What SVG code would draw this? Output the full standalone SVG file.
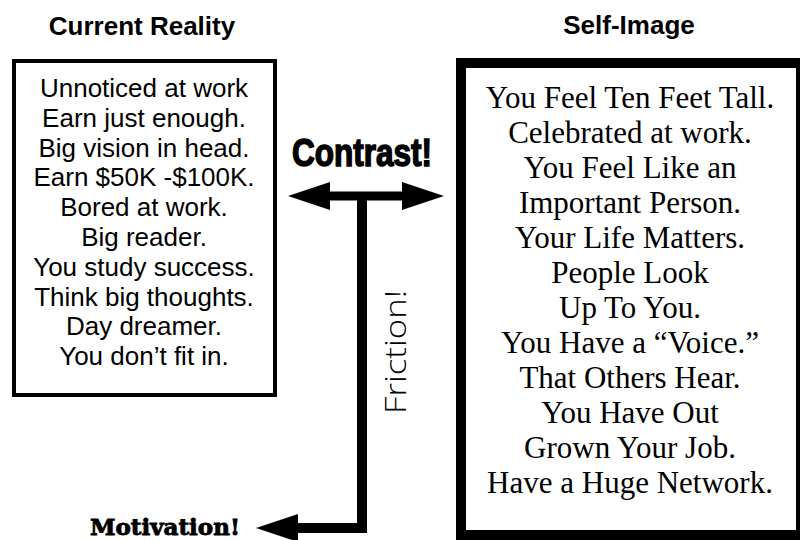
<svg xmlns="http://www.w3.org/2000/svg" width="800" height="540" viewBox="0 0 800 540">
<style>
.hdr{font-family:"Liberation Sans",Arial,sans-serif;font-weight:bold;font-size:26px;fill:#000;text-anchor:middle}
.lt{font-family:"Liberation Sans",Arial,sans-serif;font-size:26px;fill:#000;text-anchor:middle}
.rt{font-family:"Liberation Serif","Times New Roman",serif;font-size:31px;fill:#000;text-anchor:middle}
.box{fill:#fff;stroke:#000}
.con{fill:none;stroke:#000;stroke-linejoin:miter}
</style>
<defs>
<marker id="head" viewBox="0 0 42 28" markerWidth="42" markerHeight="28" markerUnits="userSpaceOnUse" refX="0" refY="14" orient="auto-start-reverse">
<path d="M0,0 L42,14 L0,28 z" fill="#000"/>
</marker>
</defs>
<rect width="800" height="540" fill="#fff"/>
<g id="current-reality">
<text class="hdr" x="142" y="35">Current Reality</text>
<rect class="box" x="14" y="61" width="261" height="334" stroke-width="4"/>
<text class="lt" x="144" y="97">Unnoticed at work</text>
<text class="lt" x="144" y="126.8">Earn just enough.</text>
<text class="lt" x="144" y="156.6">Big vision in head.</text>
<text class="lt" x="144" y="186.4">Earn $50K -$100K.</text>
<text class="lt" x="144" y="216.2">Bored at work.</text>
<text class="lt" x="144" y="246">Big reader.</text>
<text class="lt" x="144" y="275.8">You study success.</text>
<text class="lt" x="144" y="305.6">Think big thoughts.</text>
<text class="lt" x="144" y="335.4">Day dreamer.</text>
<text class="lt" x="144" y="365.2">You don’t fit in.</text>
</g>
<g id="self-image">
<text class="hdr" x="629" y="34">Self-Image</text>
<rect class="box" x="461" y="63" width="340" height="472" stroke-width="10"/>
<text class="rt" x="630" y="108">You Feel Ten Feet Tall.</text>
<text class="rt" x="630" y="143">Celebrated at work.</text>
<text class="rt" x="630" y="178">You Feel Like an</text>
<text class="rt" x="630" y="213">Important Person.</text>
<text class="rt" x="630" y="248">Your Life Matters.</text>
<text class="rt" x="630" y="283">People Look</text>
<text class="rt" x="630" y="318">Up To You.</text>
<text class="rt" x="630" y="353">You Have a “Voice.”</text>
<text class="rt" x="630" y="388">That Others Hear.</text>
<text class="rt" x="630" y="423">You Have Out</text>
<text class="rt" x="630" y="458">Grown Your Job.</text>
<text class="rt" x="630" y="493">Have a Huge Network.</text>
</g>
<g id="connectors">
<path class="con" d="M330,196 H402" stroke-width="9" marker-start="url(#head)" marker-end="url(#head)"/>
<path class="con" d="M362,192 V528 H298" stroke-width="10" marker-end="url(#head)"/>
</g>
<g id="labels">
<text x="362" y="166" text-anchor="middle" font-family="Liberation Sans,Arial,sans-serif" font-weight="bold" font-size="38" textLength="140" lengthAdjust="spacingAndGlyphs" stroke="#000" stroke-width="1.5">Contrast!</text>
<text transform="translate(406,352) rotate(-90)" text-anchor="middle" font-family="Open Sans,Lato,sans-serif" font-weight="300" font-size="30" textLength="124" lengthAdjust="spacingAndGlyphs">Friction!</text>
<text x="165" y="535" text-anchor="middle" font-family="DejaVu Serif,serif" font-weight="bold" font-size="22" textLength="150" lengthAdjust="spacingAndGlyphs" stroke="#000" stroke-width="0.8">Motivation!</text>
</g>
</svg>
